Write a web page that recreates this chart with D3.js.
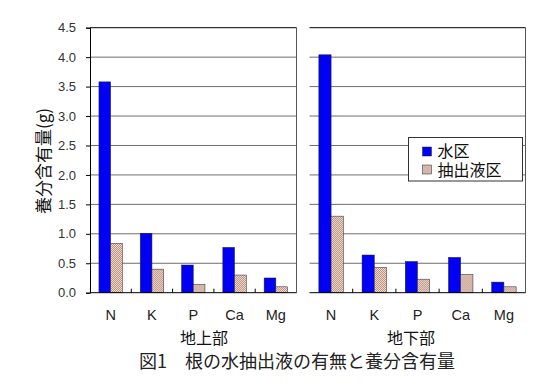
<!DOCTYPE html>
<html>
<head>
<meta charset="utf-8">
<script src="https://cdn.jsdelivr.net/npm/d3@7"></script>
<style>
  body { margin: 0; background: #fff; }
  svg { display: block; font-family: "Liberation Sans", Arial, sans-serif; }
  .jp { font-family: "Noto Sans CJK JP", sans-serif; }
</style>
</head>
<body>
<script>
"use strict";

// data
let elements = ["N", "K", "P", "Ca", "Mg"];
let series = ["水区", "抽出液区"];
let aboveWater = [3.58, 1.01, 0.47, 0.77, 0.25];
let aboveExtract = [0.84, 0.40, 0.14, 0.30, 0.10];
let belowWater = [4.04, 0.64, 0.53, 0.60, 0.18];
let belowExtract = [1.30, 0.43, 0.23, 0.31, 0.10];
let yTicks = [0, 0.5, 1.0, 1.5, 2.0, 2.5, 3.0, 3.5, 4.0, 4.5];

let w = 549, h = 390;
let svg = d3.select("body").append("svg").attr("width", w).attr("height", h);

// checker pattern for the extract bars
let pat = svg.append("defs").append("pattern")
    .attr("id", "chk").attr("width", 2).attr("height", 2)
    .attr("patternUnits", "userSpaceOnUse");
pat.append("rect").attr("width", 2).attr("height", 2).attr("fill", "#f1ded6");
pat.append("rect").attr("width", 1).attr("height", 1).attr("fill", "#b88e7c");
pat.append("rect").attr("x", 1).attr("y", 1).attr("width", 1).attr("height", 1).attr("fill", "#b88e7c");

let colors = { "水区": "#0000f5", "抽出液区": "url(#chk)" };

let y = d3.scaleLinear().domain([0, 4.5]).range([292.7, 27.7]);

let panels = [
    { name: "地上部", x0: 90, x1: 296.5, water: aboveWater, extract: aboveExtract, axis: true, labelX: 204 },
    { name: "地下部", x0: 309.5, x1: 525.5, water: belowWater, extract: belowExtract, axis: false, labelX: 411 }
];

panels.forEach(function (p) {
    let g = svg.append("g");
    let x = d3.scaleBand().domain(elements).range([p.x0, p.x1])
        .paddingInner(0.433).paddingOuter(0.2165);
    let xs = d3.scaleBand().domain(series).range([0, x.bandwidth()]);

    // gridlines
    g.selectAll(".grid")
        .data(yTicks.filter(function (t) { return t > 0 && t < 4.5; }))
        .enter().append("line")
        .attr("x1", p.x0).attr("x2", p.x1)
        .attr("y1", function (d) { return y(d); })
        .attr("y2", function (d) { return y(d); })
        .attr("stroke", "#6e6e6e").attr("stroke-width", 1);

    // frame: top and right
    g.append("line").attr("x1", p.x0).attr("x2", p.x1).attr("y1", y(4.5)).attr("y2", y(4.5))
        .attr("stroke", "#000");
    g.append("line").attr("x1", p.x1).attr("x2", p.x1).attr("y1", y(4.5)).attr("y2", y(0))
        .attr("stroke", "#555");

    let rows = elements.map(function (e, i) {
        return { el: e, vals: [
            { s: "水区", v: p.water[i] },
            { s: "抽出液区", v: p.extract[i] }
        ] };
    });

    let grp = g.selectAll(".cat").data(rows).enter().append("g")
        .attr("transform", function (d) { return "translate(" + x(d.el) + ",0)"; });
    grp.selectAll("rect").data(function (d) { return d.vals; }).enter().append("rect")
        .attr("x", function (d) { return xs(d.s); })
        .attr("width", xs.bandwidth())
        .attr("y", function (d) { return y(d.v); })
        .attr("height", function (d) { return y(0) - y(d.v); })
        .attr("fill", function (d) { return colors[d.s]; })
        .attr("stroke", "#222").attr("stroke-width", 0.5);

    // bottom axis with category separators
    g.append("line").attr("x1", p.x0).attr("x2", p.x1).attr("y1", y(0)).attr("y2", y(0))
        .attr("stroke", "#000");
    let step = x.step();
    g.selectAll(".sep").data(elements.slice(1)).enter().append("line")
        .attr("x1", function (d) { return x(d) - x.paddingInner() * step / 2; })
        .attr("x2", function (d) { return x(d) - x.paddingInner() * step / 2; })
        .attr("y1", y(0)).attr("y2", y(0) - 4)
        .attr("stroke", "#000");

    g.selectAll(".cl").data(elements).enter().append("text")
        .attr("x", function (d) { return x(d) + x.bandwidth() / 2; })
        .attr("y", 320)
        .attr("text-anchor", "middle")
        .attr("font-size", 14.5).attr("fill", "#222")
        .text(function (d) { return d; });

    g.append("text").attr("class", "jp")
        .attr("x", p.labelX).attr("y", 344)
        .attr("text-anchor", "middle")
        .attr("font-size", 16).attr("fill", "#111")
        .text(p.name);

    if (p.axis) {
        let ax = g.append("g").attr("transform", "translate(" + p.x0 + ",0)")
            .call(d3.axisLeft(y).tickValues(yTicks).tickFormat(d3.format(".1f"))
                .tickSize(4).tickPadding(10));
        ax.select(".domain").attr("stroke", "#000");
        ax.selectAll("text").attr("font-size", 13).attr("fill", "#333")
            .attr("font-family", "Liberation Sans, Arial, sans-serif");
    }
});

// y-axis title, rotated
svg.append("text").attr("class", "jp")
    .attr("transform", "translate(42,161) rotate(-90)")
    .attr("text-anchor", "middle")
    .attr("dominant-baseline", "central")
    .attr("font-size", 17).attr("fill", "#111")
    .text("養分含有量(g)");

// legend
let lg = svg.append("g").attr("transform", "translate(408.5,137.5)");
lg.append("rect").attr("width", 114).attr("height", 43.5)
    .attr("fill", "#fff").attr("stroke", "#333");
lg.selectAll(".sw").data(series).enter().append("rect")
    .attr("x", 14).attr("y", function (d, i) { return 9.5 + i * 18; })
    .attr("width", 9).attr("height", 9)
    .attr("fill", function (d) { return colors[d]; })
    .attr("stroke", "#222").attr("stroke-width", 0.5);
lg.selectAll(".lt").data(series).enter().append("text").attr("class", "jp")
    .attr("x", 29).attr("y", function (d, i) { return 19.5 + i * 18.5; })
    .attr("font-size", 16).attr("fill", "#111")
    .text(function (d) { return d; });

// caption
svg.append("text").attr("class", "jp")
    .attr("x", 297).attr("y", 368)
    .attr("text-anchor", "middle")
    .attr("font-size", 18).attr("fill", "#222")
    .text("図1　根の水抽出液の有無と養分含有量");
</script>
</body>
</html>
